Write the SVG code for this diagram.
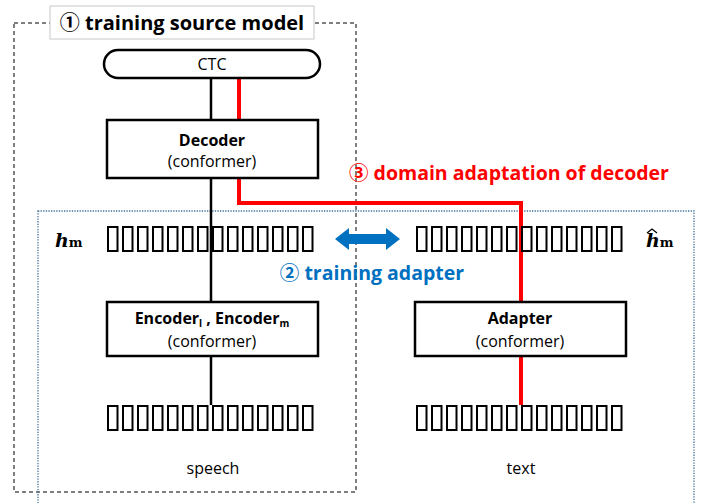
<svg xmlns="http://www.w3.org/2000/svg" width="702" height="503" viewBox="0 0 702 503">
<style>
.box{fill:#fff;stroke:#000;stroke-width:2.5}
.t{font-family:"Open Sans","Noto Sans CJK JP",sans-serif;font-size:16px;fill:#000;text-anchor:middle}
.b{font-weight:bold}
.sq{fill:none;stroke:#000;stroke-width:2}
.red{stroke:#ff0000;stroke-width:4;fill:none}
.blk{stroke:#000;stroke-width:2.5;fill:none}
.math{font-family:"DejaVu Serif","Liberation Serif",serif;font-size:19px;fill:#000}
</style>
<defs>
<g id="row">
<rect class="sq" x="1" y="1" width="9.5" height="24"/>
<rect class="sq" x="16" y="1" width="9.5" height="24"/>
<rect class="sq" x="31" y="1" width="9.5" height="24"/>
<rect class="sq" x="46" y="1" width="9.5" height="24"/>
<rect class="sq" x="61" y="1" width="9.5" height="24"/>
<rect class="sq" x="76" y="1" width="9.5" height="24"/>
<rect class="sq" x="91" y="1" width="9.5" height="24"/>
<rect class="sq" x="106" y="1" width="9.5" height="24"/>
<rect class="sq" x="121" y="1" width="9.5" height="24"/>
<rect class="sq" x="136" y="1" width="9.5" height="24"/>
<rect class="sq" x="151" y="1" width="9.5" height="24"/>
<rect class="sq" x="166" y="1" width="9.5" height="24"/>
<rect class="sq" x="181" y="1" width="9.5" height="24"/>
<rect class="sq" x="196" y="1" width="9.5" height="24"/>
</g>
</defs>
<rect width="702" height="503" fill="#fff"/>
<g id="frames">
<rect x="14" y="23" width="342" height="469" fill="none" stroke="#000" stroke-width="1" stroke-dasharray="4 3"/>
<rect x="38" y="211" width="656" height="300" fill="none" stroke="#41719c" stroke-width="1.3" stroke-dasharray="1.3 1.3"/>
<rect x="50" y="6" width="264" height="33" fill="#fff" stroke="#c8c8c8" stroke-width="1"/>
<text x="182" y="30" class="t b" style="font-size:20px">① training source model</text>
</g>
<g id="connectors">
<line class="blk" x1="211" y1="78" x2="211" y2="120"/>
<line class="blk" x1="211" y1="178" x2="211" y2="302"/>
<line class="blk" x1="211" y1="356" x2="211" y2="405"/>
<line class="red" x1="239" y1="78" x2="239" y2="120"/>
<polyline class="red" points="239,178 239,203 521,203 521,302"/>
<line class="red" x1="521" y1="356" x2="521" y2="405"/>
<polygon points="335,239 349,228 349,234 386,234 386,228 400,239 386,250 386,244 349,244 349,250" fill="#0070c0"/>
</g>
<g id="hm-left"><use href="#row" x="107" y="226"/></g>
<g id="hm-right"><use href="#row" x="416" y="226"/></g>
<g id="speech-row"><use href="#row" x="107" y="405"/></g>
<g id="text-row"><use href="#row" x="416" y="405"/></g>
<g id="ctc">
<rect class="box" x="104" y="50" width="216" height="28" rx="14"/>
<text x="212" y="70" class="t">CTC</text>
</g>
<g id="decoder">
<rect class="box" x="107" y="120" width="211" height="58"/>
<text x="212" y="146" class="t b">Decoder</text>
<text x="212" y="167" class="t">(conformer)</text>
</g>
<g id="encoder">
<rect class="box" x="107" y="302" width="211" height="54"/>
<text x="212" y="324" class="t b">Encoder<tspan font-size="10" dy="3">l</tspan><tspan dy="-3"> , Encoder</tspan><tspan font-size="10" dy="3">m</tspan></text>
<text x="212" y="347" class="t">(conformer)</text>
</g>
<g id="adapter">
<rect class="box" x="415" y="302" width="211" height="54"/>
<text x="520" y="324" class="t b">Adapter</text>
<text x="520" y="347" class="t">(conformer)</text>
</g>
<g id="labels">
<text x="55" y="247" class="math"><tspan font-weight="bold" font-style="italic">h</tspan><tspan font-size="13" font-weight="bold">m</tspan></text>
<text x="646" y="247" class="math"><tspan font-weight="bold" font-style="italic">h</tspan><tspan font-size="13" font-weight="bold">m</tspan></text>
<path d="M647,233 L652,229 L657,233" fill="none" stroke="#000" stroke-width="1.3"/>
<text x="372" y="280" class="t b" style="font-size:19.5px;fill:#0070c0">② training adapter</text>
<text x="509" y="180" class="t b" style="font-size:19.5px;fill:#ff0000">③ domain adaptation of decoder</text>
<text x="213" y="474" class="t">speech</text>
<text x="521" y="474" class="t">text</text>
</g>
</svg>
